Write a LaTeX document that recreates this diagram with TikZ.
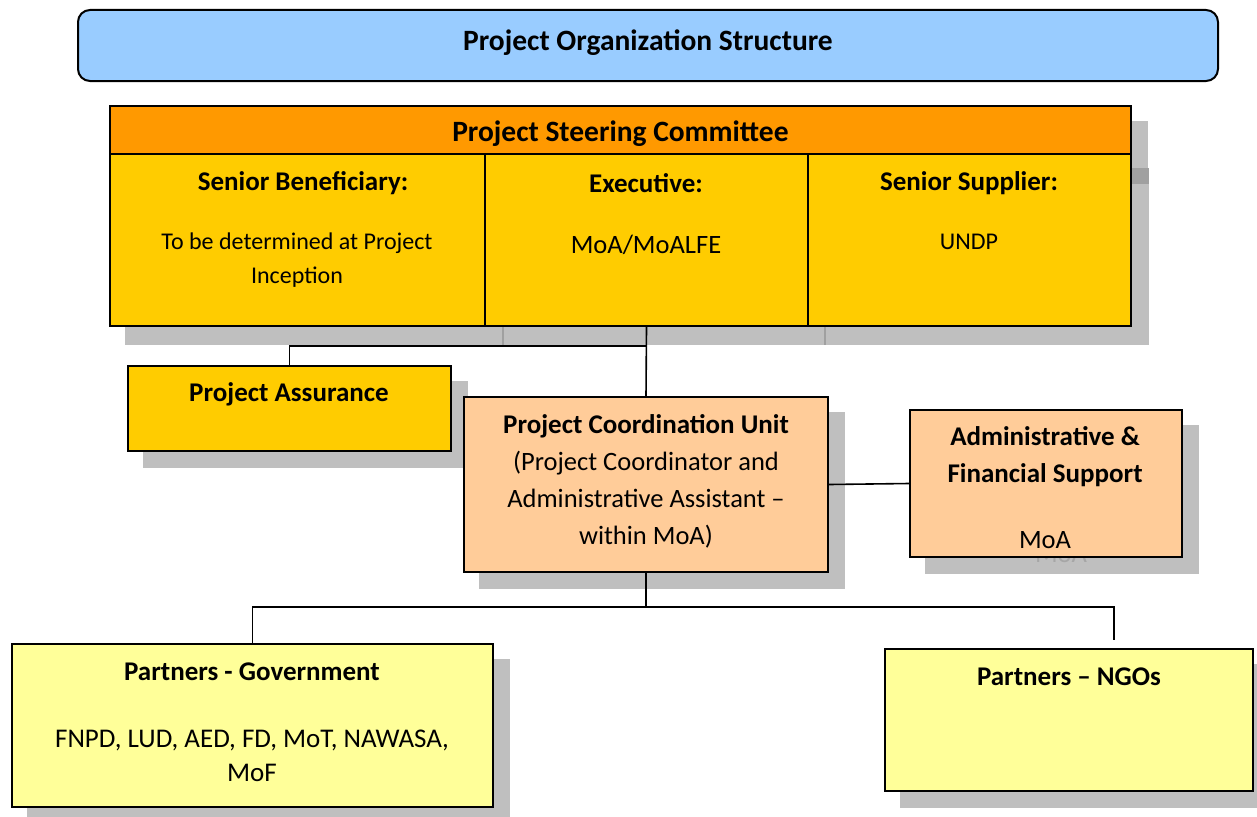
\documentclass[tikz,border=0pt]{standalone}
\usepackage{fontspec}
\setmainfont{Carlito}
\usetikzlibrary{backgrounds}
\definecolor{titleblue}{HTML}{99CCFF}
\definecolor{pscorange}{HTML}{FF9900}
\definecolor{pscyellow}{HTML}{FFCC00}
\definecolor{peach}{HTML}{FFCC99}
\definecolor{paleyellow}{HTML}{FFFF99}
\definecolor{shadowgray}{HTML}{BFBFBF}
\definecolor{darkshadow}{HTML}{A0A0A0}
\definecolor{ghostgray}{HTML}{A6A6A6}
\newcommand{\fsBig}{\fontsize{29.5}{35}\selectfont\bfseries}
\newcommand{\fsHead}{\fontsize{27}{37}\selectfont\bfseries}
\newcommand{\fsBody}{\fontsize{24}{34}\selectfont}
\newcommand{\fsBodyL}{\fontsize{26.5}{37}\selectfont}
\tikzset{
  box/.style={draw=black, line width=2pt, rectangle, inner sep=0pt},
  conn/.style={draw=black, line width=1.6pt},
  txt/.style={inner sep=0pt, align=center, text=black},
}
\newcommand{\boxshadow}[1]{\fill[shadowgray] ([shift={(16,16)}]#1.north west) rectangle ([shift={(16,16)}]#1.south east);}
\begin{document}
\begin{tikzpicture}[x=1pt,y=-1pt]
\useasboundingbox (0,0) rectangle (1257,816);
% title
\node[box, fill=titleblue, rounded corners=12pt, minimum width=1140, minimum height=71] (title) at (648,45.5) {};
\node[txt, font=\fsBig] (titletxt) at (648,43) {Project Organization Structure};
% steering committee
\node[box, fill=pscorange, minimum width=1021, minimum height=48] (psc) at (620.5,130) {};
\node[box, fill=pscyellow, minimum width=375, minimum height=172] (col1) at (297.5,240) {};
\node[box, fill=pscyellow, minimum width=323, minimum height=172] (col2) at (646.5,240) {};
\node[box, fill=pscyellow, minimum width=323, minimum height=172] (col3) at (969.5,240) {};
\node[txt, font=\fontsize{29.5}{36}\selectfont\bfseries] (psctxt) at (620.5,134) {Project Steering Committee};
\node[txt, font=\fsHead] (c1h) at (303,183) {Senior Beneficiary:};
\node[txt, font=\fsHead] (c2h) at (646,183) {Executive:};
\node[txt, font=\fsHead] (c3h) at (969,183) {Senior Supplier:};
\node[txt, font=\fsBody] (c1b) at (297,260) {To be determined at Project\\Inception};
\node[txt, font=\fsBodyL] (c2b) at (646,245) {MoA/MoALFE};
\node[txt, font=\fsBody] (c3b) at (969,242) {UNDP};
% assurance
\node[box, fill=pscyellow, minimum width=323, minimum height=85] (assur) at (289.5,408.5) {};
\node[txt, font=\fsHead] (assurtxt) at (289,394) {Project Assurance};
% PCU
\node[box, fill=peach, minimum width=364, minimum height=175] (pcu) at (646,484.5) {};
\node[txt, font=\fsBodyL] (pcutxt) at (646,481.5) {{\fsHead Project Coordination Unit}\\(Project Coordinator and\\Administrative Assistant --\\within MoA)};
% admin
\node[box, fill=peach, minimum width=272, minimum height=147] (admin) at (1046,483.5) {};
\node[txt, font=\fsHead] (admintxt) at (1045,456.5) {Administrative \&\\Financial Support};
\node[txt, font=\fsBodyL] (adminmoa) at (1045,540) {MoA};
% partners
\node[box, fill=paleyellow, minimum width=481, minimum height=163] (gov) at (252.5,725.5) {};
\node[txt, font=\fsHead] (govh) at (252,672) {Partners - Government};
\node[txt, font=\fontsize{27}{34}\selectfont] (govb) at (252,756) {FNPD, LUD, AED, FD, MoT, NAWASA,\\MoF};
\node[box, fill=paleyellow, minimum width=368, minimum height=142] (ngo) at (1069,720) {};
\node[txt, font=\fsHead] (ngoh) at (1069,677) {Partners -- NGOs};
% shadows
\begin{scope}[on background layer]
  \boxshadow{psc}
  \fill[shadowgray] ([shift={(16,16)}]col1.north west) rectangle ([shift={(17,18)}]col3.south east);
  \fill[darkshadow] (col3.east |- 0,168) rectangle ([xshift=17]col3.east |- 0,184);
  \draw[darkshadow, line width=1.5pt] ([xshift=17]col1.south east) -- ([shift={(17,18)}]col1.south east);
  \draw[darkshadow, line width=1.5pt] ([xshift=16]col2.south east) -- ([shift={(16,18)}]col2.south east);
  \boxshadow{assur}
  \boxshadow{pcu}
  \boxshadow{admin}
  \node[txt, font=\fsBodyL, text=ghostgray] (ghostmoa) at (1061,554) {MoA};
  \boxshadow{gov}
  \boxshadow{ngo}
\end{scope}
% connectors
\coordinate (j1) at (col2.south |- 0,346);
\coordinate (j2) at (pcu.south |- 0,607);
\draw[conn] (col2.south) -- (pcu.north);
\draw[conn] (j1) -| (assur.north);
\draw[conn] (pcu.east) -- (admin.west);
\draw[conn] (pcu.south) -- (j2);
\draw[conn] (j2) -| (gov.north);
\draw[conn] (j2) -| ([shift={(45,-8)}]ngo.north);
\end{tikzpicture}
\end{document}
